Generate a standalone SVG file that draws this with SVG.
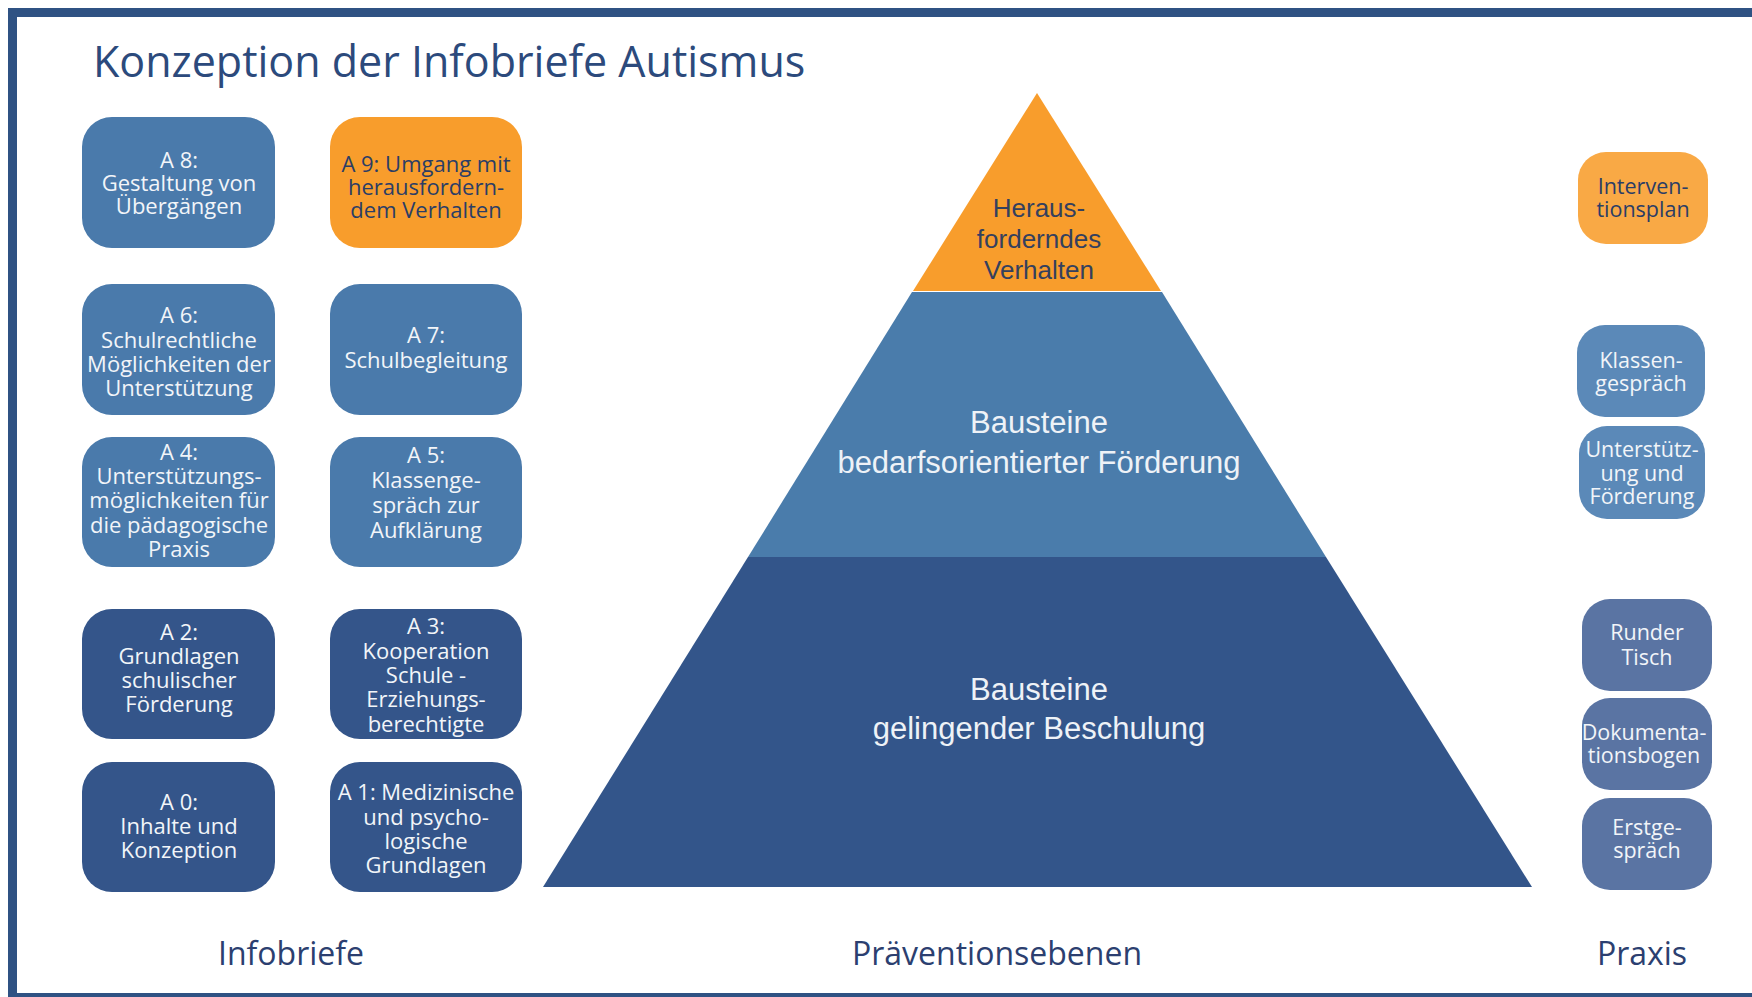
<svg xmlns="http://www.w3.org/2000/svg" width="1752" height="997" viewBox="0 0 1752 997">
<style>
.box{stroke:none}
.mid{fill:#4a7aab}
.dark{fill:#34558a}
.org{fill:#f89d2c}
.lt{fill:#5b89b8}
.sl{fill:#5a74a3}
.bt{font-family:"Open Sans","Noto Sans","Liberation Sans",sans-serif;font-size:22px;text-anchor:middle;fill:#f2f5f9}
.rt{font-family:"Open Sans","Noto Sans","Liberation Sans",sans-serif;font-size:21.5px;text-anchor:middle;fill:#f2f5f9}
.dk{fill:#2b3d66}
.pt{font-family:"Liberation Sans",Arial,sans-serif;text-anchor:middle}
.lab{font-family:"Open Sans","Noto Sans","Liberation Sans",sans-serif;font-size:32px;text-anchor:middle;fill:#2c3f70}
</style>
<rect x="0" y="0" width="1752" height="997" fill="#ffffff"/>
<rect x="12.5" y="12.5" width="1800" height="985" fill="none" stroke="#2f5283" stroke-width="9"/>
<text x="93" y="77" font-family="'Open Sans','Noto Sans','Liberation Sans',sans-serif" font-size="43" fill="#2c4a7c">Konzeption der Infobriefe Autismus</text>

<g id="pyramid">
<polygon points="1037,93 1161,291 913,291" fill="#f89d2c"/>
<polygon points="912,292 1162,292 1326,557 748,557" fill="#4a7cab"/>
<polygon points="748,557 1326,557 1532,887 543,887" fill="#33558a"/>
<text class="pt" font-size="26" fill="#34405e"><tspan x="1039" y="217">Heraus-</tspan><tspan x="1039" y="248">forderndes</tspan><tspan x="1039" y="279">Verhalten</tspan></text>
<text class="pt" font-size="31" fill="#eef2f7"><tspan x="1039" y="433">Bausteine</tspan><tspan x="1039" y="473">bedarfsorientierter Förderung</tspan></text>
<text class="pt" font-size="31" fill="#eef2f7"><tspan x="1039" y="700">Bausteine</tspan><tspan x="1039" y="739">gelingender Beschulung</tspan></text>
</g>

<g id="A8"><rect class="box mid" x="82" y="117" width="193" height="131" rx="30"/>
<text class="bt"><tspan x="179" y="168">A 8:</tspan><tspan x="179" y="191">Gestaltung von</tspan><tspan x="179" y="214">Übergängen</tspan></text></g>
<g id="A9"><rect class="box org" x="330" y="117" width="192" height="131" rx="30"/>
<text class="bt dk"><tspan x="426" y="172">A 9: Umgang mit</tspan><tspan x="426" y="195">herausfordern-</tspan><tspan x="426" y="218">dem Verhalten</tspan></text></g>
<g id="A6"><rect class="box mid" x="82" y="284" width="193" height="131" rx="30"/>
<text class="bt"><tspan x="179" y="323">A 6:</tspan><tspan x="179" y="348">Schulrechtliche</tspan><tspan x="179" y="372">Möglichkeiten der</tspan><tspan x="179" y="396">Unterstützung</tspan></text></g>
<g id="A7"><rect class="box mid" x="330" y="284" width="192" height="131" rx="30"/>
<text class="bt"><tspan x="426" y="343">A 7:</tspan><tspan x="426" y="368">Schulbegleitung</tspan></text></g>
<g id="A4"><rect class="box mid" x="82" y="437" width="193" height="130" rx="30"/>
<text class="bt"><tspan x="179" y="460">A 4:</tspan><tspan x="179" y="484">Unterstützungs-</tspan><tspan x="179" y="508">möglichkeiten für</tspan><tspan x="179" y="533">die pädagogische</tspan><tspan x="179" y="557">Praxis</tspan></text></g>
<g id="A5"><rect class="box mid" x="330" y="437" width="192" height="130" rx="30"/>
<text class="bt"><tspan x="426" y="463">A 5:</tspan><tspan x="426" y="488">Klassenge-</tspan><tspan x="426" y="513">spräch zur</tspan><tspan x="426" y="538">Aufklärung</tspan></text></g>
<g id="A2"><rect class="box dark" x="82" y="609" width="193" height="130" rx="30"/>
<text class="bt"><tspan x="179" y="640">A 2:</tspan><tspan x="179" y="664">Grundlagen</tspan><tspan x="179" y="688">schulischer</tspan><tspan x="179" y="712">Förderung</tspan></text></g>
<g id="A3"><rect class="box dark" x="330" y="609" width="192" height="130" rx="30"/>
<text class="bt"><tspan x="426" y="634">A 3:</tspan><tspan x="426" y="659">Kooperation</tspan><tspan x="426" y="683">Schule -</tspan><tspan x="426" y="707">Erziehungs-</tspan><tspan x="426" y="732">berechtigte</tspan></text></g>
<g id="A0"><rect class="box dark" x="82" y="762" width="193" height="130" rx="30"/>
<text class="bt"><tspan x="179" y="810">A 0:</tspan><tspan x="179" y="834">Inhalte und</tspan><tspan x="179" y="858">Konzeption</tspan></text></g>
<g id="A1"><rect class="box dark" x="330" y="762" width="192" height="130" rx="30"/>
<text class="bt"><tspan x="426" y="800">A 1: Medizinische</tspan><tspan x="426" y="825">und psycho-</tspan><tspan x="426" y="849">logische</tspan><tspan x="426" y="873">Grundlagen</tspan></text></g>

<g id="Interventionsplan"><rect class="box" fill="#f9a945" x="1578" y="152" width="130" height="92" rx="28"/>
<text class="rt dk"><tspan x="1643" y="194">Interven-</tspan><tspan x="1643" y="217">tionsplan</tspan></text></g>
<g id="Klassengespraech"><rect class="box lt" x="1577" y="325" width="128" height="92" rx="28"/>
<text class="rt"><tspan x="1641" y="368">Klassen-</tspan><tspan x="1641" y="391">gespräch</tspan></text></g>
<g id="Unterstuetzung"><rect class="box lt" x="1579" y="426" width="126" height="93" rx="28"/>
<text class="rt"><tspan x="1642" y="457">Unterstütz-</tspan><tspan x="1642" y="481">ung und</tspan><tspan x="1642" y="504">Förderung</tspan></text></g>
<g id="RunderTisch"><rect class="box sl" x="1582" y="599" width="130" height="92" rx="28"/>
<text class="rt"><tspan x="1647" y="640">Runder</tspan><tspan x="1647" y="665">Tisch</tspan></text></g>
<g id="Dokumentationsbogen"><rect class="box sl" x="1582" y="698" width="130" height="92" rx="28"/>
<text class="rt"><tspan x="1644" y="740">Dokumenta-</tspan><tspan x="1644" y="763">tionsbogen</tspan></text></g>
<g id="Erstgespraech"><rect class="box sl" x="1582" y="798" width="130" height="92" rx="28"/>
<text class="rt"><tspan x="1647" y="835">Erstge-</tspan><tspan x="1647" y="858">spräch</tspan></text></g>

<g id="labels">
<text class="lab" x="291" y="965">Infobriefe</text>
<text class="lab" x="997" y="965">Präventionsebenen</text>
<text class="lab" x="1642" y="965">Praxis</text>
</g>
<g id="connectors"></g>
</svg>
